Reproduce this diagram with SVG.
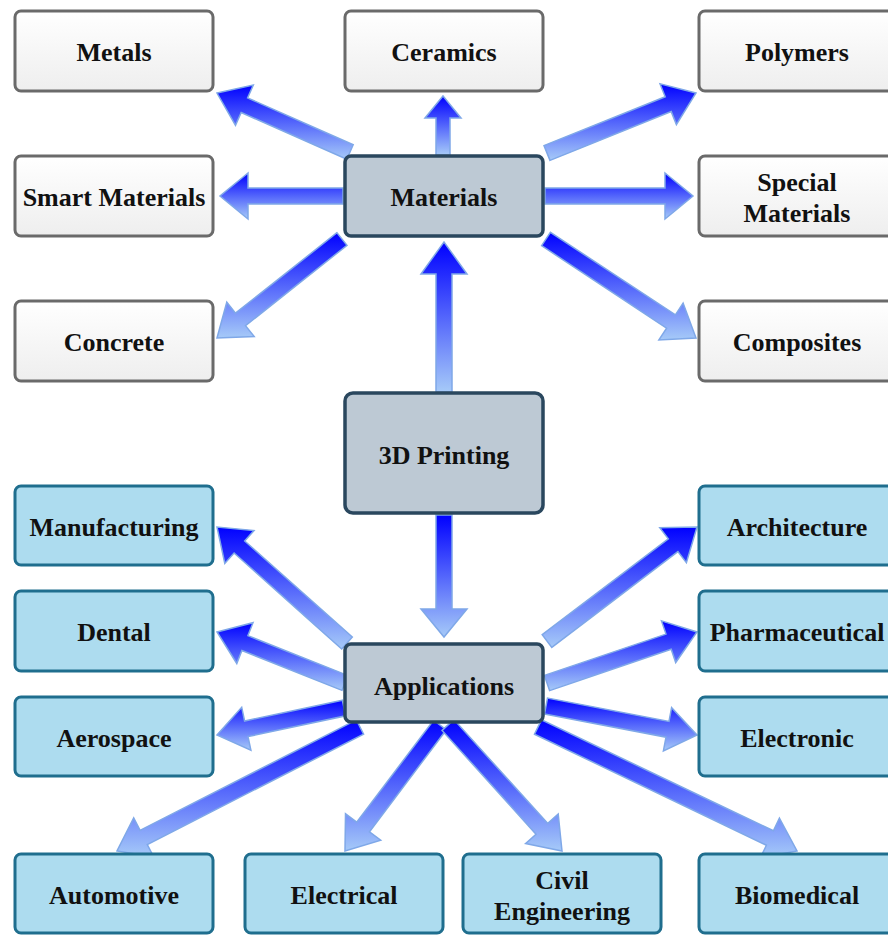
<svg xmlns="http://www.w3.org/2000/svg" width="888" height="935" viewBox="0 0 888 935">
<defs>
<linearGradient id="ag" x1="0" y1="0" x2="0" y2="1">
<stop offset="0" stop-color="#0000ff"/>
<stop offset="1" stop-color="#a6caf8"/>
</linearGradient>
<linearGradient id="gg" x1="0" y1="0" x2="0" y2="1">
<stop offset="0" stop-color="#ffffff"/>
<stop offset="1" stop-color="#eeeeee"/>
</linearGradient>
</defs>
<style>
.ar{fill:url(#ag);stroke:#7fa8e8;stroke-width:1.5;stroke-linejoin:miter}
.g rect{fill:url(#gg);stroke:#6a6a6a;stroke-width:3}
.b rect{fill:#addcef;stroke:#1f6e8e;stroke-width:3}
.c rect{fill:#bdc9d4;stroke:#2a475e;stroke-width:3.5}
text{font-family:"Liberation Serif","Times New Roman",serif;font-weight:bold;font-size:26px;fill:#111;text-anchor:middle}
</style>
<rect width="888" height="935" fill="#ffffff"/>
<g id="connectors">
<polygon class="ar" points="353.2,144.7 247.6,97.9 253.3,85.1 217,93 235.5,125.3 241.2,112.5 346.8,159.3"/>
<polygon class="ar" points="436,155 436,118 425,118 443,96 461,118 450,118 450,155"/>
<polygon class="ar" points="343,188 248,188 248,173 220,196 248,219 248,204 343,204"/>
<polygon class="ar" points="337,232.7 235.5,313.1 226.8,302.2 217,338 254.2,336.6 245.5,325.7 347,245.3"/>
<polygon class="ar" points="550,160.4 671.2,111.6 676.4,124.6 696,93 660,83.8 665.2,96.8 544,145.6"/>
<polygon class="ar" points="545,188 665,188 665,173 693,196 665,219 665,204 545,204"/>
<polygon class="ar" points="541.6,245.7 666.6,328.2 658.9,339.9 696,338 683.1,303.1 675.4,314.8 550.4,232.3"/>
<polygon class="ar" points="436,392 436,274 421,274 444,242 467,274 452,274 452,392"/>
<polygon class="ar" points="436,515 436,609 421,609 444,637 467,609 452,609 452,515"/>
<polygon class="ar" points="352.3,637 244.7,541 254,530.6 217,527 224.8,563.4 234.1,553 341.7,649"/>
<polygon class="ar" points="348,675.6 247.9,635.7 253,622.7 217,632 236.8,663.5 241.9,650.5 342,690.4"/>
<polygon class="ar" points="342.3,700.2 244.6,721 241.7,707.3 217,735 250.9,750.3 248,736.6 345.7,715.8"/>
<polygon class="ar" points="356.4,719.9 140.1,830.3 133.7,817.8 117,851 153.7,857 147.3,844.5 363.6,734.1"/>
<polygon class="ar" points="433.6,720.2 356.7,822.2 345.5,813.8 345,851 380.7,840.2 369.5,831.8 446.4,729.8"/>
<polygon class="ar" points="442.1,730.4 536,834.2 525.6,843.6 562,851 558.2,814 547.8,823.4 453.9,719.6"/>
<polygon class="ar" points="534.5,734.2 766.4,845.2 760.4,857.8 797,851 779.4,818.2 773.4,830.8 541.5,719.8"/>
<polygon class="ar" points="544.5,713.9 666,737.2 663.4,750.9 697,735 671.6,707.7 669,721.4 547.5,698.1"/>
<polygon class="ar" points="549.6,690.6 671.2,649.3 675.7,662.5 697,632 661.5,620.9 666,634.1 544.4,675.4"/>
<polygon class="ar" points="551.8,647.4 677.9,551.6 686.4,562.7 697,527 659.8,527.7 668.3,538.8 542.2,634.6"/>
</g>
<g id="metals" class="g"><rect x="15" y="11" width="198" height="80" rx="6"/><text x="114" y="61">Metals</text></g>
<g id="ceramics" class="g"><rect x="345" y="11" width="198" height="80" rx="6"/><text x="444" y="61">Ceramics</text></g>
<g id="polymers" class="g"><rect x="699" y="11" width="198" height="80" rx="6"/><text x="797" y="61">Polymers</text></g>
<g id="smart" class="g"><rect x="15" y="156" width="198" height="80" rx="6"/><text x="114" y="206">Smart Materials</text></g>
<g id="special" class="g"><rect x="699" y="156" width="198" height="80" rx="6"/><text x="797" y="191">Special</text><text x="797" y="222">Materials</text></g>
<g id="concrete" class="g"><rect x="15" y="301" width="198" height="80" rx="6"/><text x="114" y="351">Concrete</text></g>
<g id="composites" class="g"><rect x="699" y="301" width="198" height="80" rx="6"/><text x="797" y="351">Composites</text></g>
<g id="materials" class="c"><rect x="345" y="156" width="198" height="80" rx="6"/><text x="444" y="206">Materials</text></g>
<g id="printing" class="c"><rect x="345" y="393" width="198" height="120" rx="8"/><text x="444" y="464">3D Printing</text></g>
<g id="applications" class="c"><rect x="345" y="644" width="198" height="78" rx="6"/><text x="444" y="695">Applications</text></g>
<g id="manufacturing" class="b"><rect x="15" y="486" width="198" height="79" rx="6"/><text x="114" y="536">Manufacturing</text></g>
<g id="dental" class="b"><rect x="15" y="591" width="198" height="80" rx="6"/><text x="114" y="641">Dental</text></g>
<g id="aerospace" class="b"><rect x="15" y="697" width="198" height="79" rx="6"/><text x="114" y="747">Aerospace</text></g>
<g id="architecture" class="b"><rect x="699" y="486" width="198" height="79" rx="6"/><text x="797" y="536">Architecture</text></g>
<g id="pharmaceutical" class="b"><rect x="699" y="591" width="198" height="80" rx="6"/><text x="797" y="641">Pharmaceutical</text></g>
<g id="electronic" class="b"><rect x="699" y="697" width="198" height="79" rx="6"/><text x="797" y="747">Electronic</text></g>
<g id="automotive" class="b"><rect x="15" y="854" width="198" height="79" rx="6"/><text x="114" y="904">Automotive</text></g>
<g id="electrical" class="b"><rect x="245" y="854" width="198" height="79" rx="6"/><text x="344" y="904">Electrical</text></g>
<g id="civil" class="b"><rect x="463" y="854" width="198" height="79" rx="6"/><text x="562" y="889">Civil</text><text x="562" y="920">Engineering</text></g>
<g id="biomedical" class="b"><rect x="699" y="854" width="198" height="79" rx="6"/><text x="797" y="904">Biomedical</text></g>
</svg>
